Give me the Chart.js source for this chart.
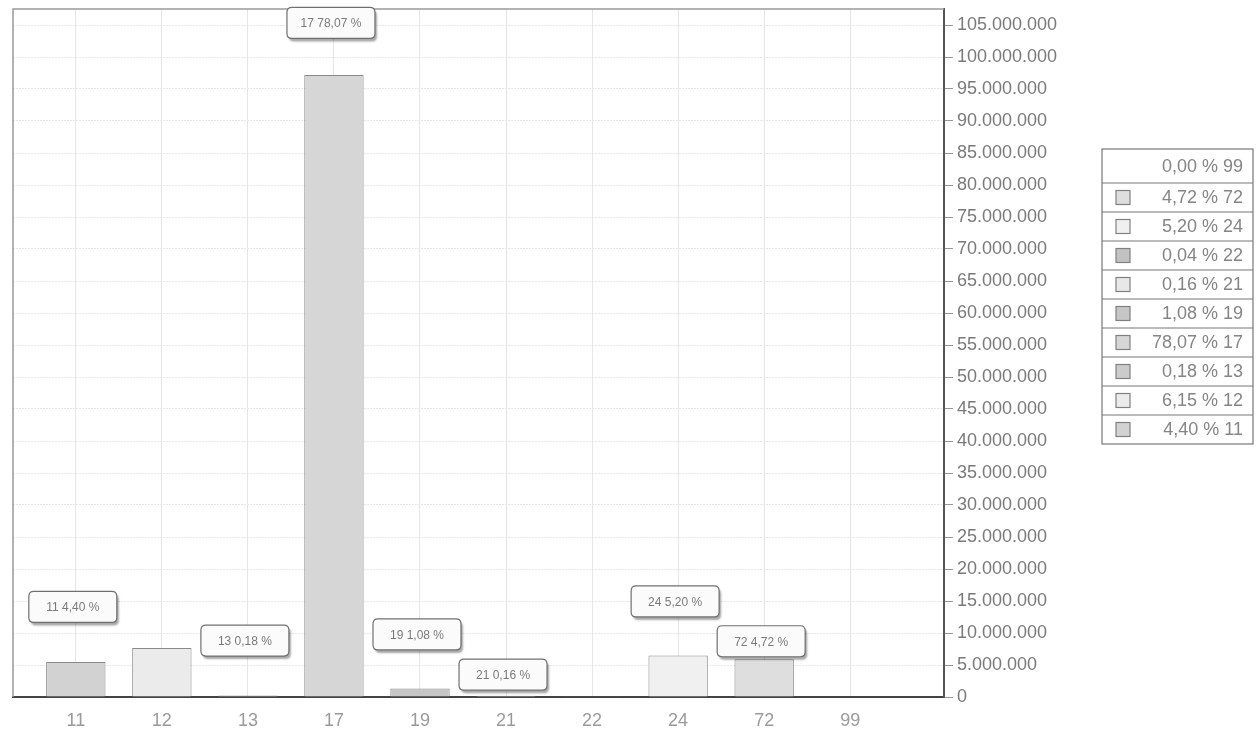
<!DOCTYPE html>
<html>
<head>
<meta charset="utf-8">
<script src="https://cdn.jsdelivr.net/npm/chart.js@4.4.1/dist/chart.umd.min.js"></script>
<style>
    html, body { margin: 0; padding: 0; background: #fff; }
    #wrap { width: 1257px; height: 734px; position: relative; }
</style>
</head>
<body>
<div id="wrap"><canvas id="shareChart"></canvas></div>
<script>
// values
var categories = ['11', '12', '13', '17', '19', '21', '22', '24', '72', '99'];
var amounts = [5480000, 7660000, 220000, 97200000, 1340000, 200000, 50000, 6500000, 5900000, 0];
var shares = ['4,40', '6,15', '0,18', '78,07', '1,08', '0,16', '0,04', '5,20', '4,72', '0,00'];
var yTicks = [0, 5000000, 10000000, 15000000, 20000000, 25000000, 30000000, 35000000, 40000000,
    45000000, 50000000, 55000000, 60000000, 65000000, 70000000, 75000000, 80000000, 85000000,
    90000000, 95000000, 100000000, 105000000];

// styles
var barColors = ['#d2d2d2', '#ebebeb', '#cbcbcb', '#d6d6d6', '#c6c6c6', '#e8e8e8', '#c2c2c2', '#f0f0f0', '#dedede', '#eeeeee'];
var labelLift = [55, null, 55, 52, 54, 21, null, 54, 18, null]; // px above bar top, null = hidden

function dotted(v) {
    return String(v).replace(/\B(?=(\d{3})+(?!\d))/g, '.');
}

function roundRect(ctx, x, y, w, h, r) {
    ctx.beginPath();
    ctx.moveTo(x + r, y);
    ctx.lineTo(x + w - r, y);
    ctx.quadraticCurveTo(x + w, y, x + w, y + r);
    ctx.lineTo(x + w, y + h - r);
    ctx.quadraticCurveTo(x + w, y + h, x + w - r, y + h);
    ctx.lineTo(x + r, y + h);
    ctx.quadraticCurveTo(x, y + h, x, y + h - r);
    ctx.lineTo(x, y + r);
    ctx.quadraticCurveTo(x, y, x + r, y);
    ctx.closePath();
}

function noPad(scale) {
    scale.paddingTop = 0;
    scale.paddingBottom = 0;
    scale.paddingLeft = 0;
    scale.paddingRight = 0;
}

// frame on left/top, boxed value labels and the table legend
var extras = {
    id: 'extras',
    beforeDatasetsDraw: function(chart) {
        var ctx = chart.ctx, a = chart.chartArea;
        ctx.save();
        ctx.strokeStyle = '#9a9a9a';
        ctx.lineWidth = 1.5;
        ctx.beginPath();
        ctx.moveTo(a.left, a.bottom);
        ctx.lineTo(a.left, a.top);
        ctx.lineTo(a.right, a.top);
        ctx.stroke();
        ctx.restore();
    },
    afterDraw: function(chart) {
        var ctx = chart.ctx;
        var meta = chart.getDatasetMeta(0);
        ctx.save();
        ctx.font = '12px "Liberation Sans", Arial, sans-serif';
        ctx.textAlign = 'center';
        ctx.textBaseline = 'middle';
        meta.data.forEach(function(bar, i) {
            if (labelLift[i] === null) return;
            var cx = bar.x - 3, cy = bar.y - labelLift[i];
            var w = 88, h = 31;
            ctx.save();
            ctx.shadowColor = 'rgba(0,0,0,0.35)';
            ctx.shadowOffsetX = 2;
            ctx.shadowOffsetY = 3;
            ctx.shadowBlur = 2;
            roundRect(ctx, cx - w / 2, cy - h / 2, w, h, 5);
            ctx.fillStyle = '#fbfbfb';
            ctx.fill();
            ctx.restore();
            roundRect(ctx, cx - w / 2, cy - h / 2, w, h, 5);
            ctx.strokeStyle = '#707070';
            ctx.lineWidth = 1.2;
            ctx.stroke();
            ctx.fillStyle = '#7a7a7a';
            ctx.fillText(categories[i] + ' ' + shares[i] + ' %', cx, cy + 1);
        });
        ctx.restore();

        // legend table, last category first
        var left = 1102, right = 1253, top = 149;
        var rows = categories.length;
        var y = top;
        ctx.save();
        ctx.lineWidth = 1.2;
        ctx.font = '18px "Liberation Sans", Arial, sans-serif';
        ctx.textAlign = 'right';
        ctx.textBaseline = 'middle';
        for (var r = 0; r < rows; r++) {
            var i = rows - 1 - r;
            var rh = r === 0 ? 34 : 29;
            ctx.fillStyle = '#858585';
            ctx.fillText(shares[i] + ' % ' + categories[i], right - 10, y + rh / 2 + 1);
            if (amounts[i] > 0) {
                ctx.fillStyle = barColors[i];
                ctx.fillRect(1116, y + rh / 2 - 7, 14, 14);
                ctx.strokeStyle = '#808080';
                ctx.strokeRect(1116, y + rh / 2 - 7, 14, 14);
            }
            y += rh;
            if (r < rows - 1) {
                ctx.strokeStyle = '#777';
                ctx.beginPath();
                ctx.moveTo(left, y);
                ctx.lineTo(right, y);
                ctx.stroke();
            }
        }
        ctx.strokeStyle = '#777';
        ctx.strokeRect(left, top, right - left, y - top);
        ctx.restore();
    }
};

document.addEventListener('DOMContentLoaded', function() {
    var ctx = document.getElementById('shareChart').getContext('2d');
    new Chart(ctx, {
        type: 'bar',
        data: {
            datasets: [{
                label: 'Share',
                data: categories.map(function(c, i) { return { x: i, y: amounts[i] }; }),
                backgroundColor: barColors,
                borderColor: '#8a8a8a',
                borderWidth: 1,
                categoryPercentage: 1,
                barPercentage: 0.69
            }]
        },
        options: {
            responsive: true,
            maintainAspectRatio: false,
            animation: false,
            layout: { padding: { left: 13, top: 9, right: 0, bottom: 0 } },
            plugins: {
                legend: { display: false },
                tooltip: { enabled: false }
            },
            scales: {
                x: {
                    type: 'linear',
                    offset: false,
                    min: -0.73,
                    max: 10.09,
                    afterBuildTicks: function(scale) {
                        scale.ticks = categories.map(function(c, i) { return { value: i }; });
                    },
                    afterFit: function(scale) { scale.height = 37; noPad(scale); },
                    ticks: {
                        padding: 13,
                        color: '#9a9a9a',
                        font: { family: '"Liberation Sans", Arial, sans-serif', size: 18 },
                        callback: function(v) { return categories[v]; }
                    },
                    grid: { color: '#e6e6e6', drawTicks: false, offset: false },
                    border: { color: '#444', width: 2 }
                },
                y: {
                    position: 'right',
                    min: 0,
                    max: 107500000,
                    afterBuildTicks: function(scale) {
                        scale.ticks = yTicks.map(function(v) { return { value: v }; });
                    },
                    afterFit: function(scale) { scale.width = 313; noPad(scale); },
                    ticks: {
                        padding: 4,
                        color: '#7a7a7a',
                        font: { family: '"Liberation Sans", Arial, sans-serif', size: 18 },
                        callback: function(v) { return dotted(v); }
                    },
                    grid: { color: '#e6e6e6', tickLength: 9, tickColor: '#999' },
                    border: { color: '#555', width: 2, dash: [2, 1] }
                }
            }
        },
        plugins: [extras]
    });
});
</script>
</body>
</html>
